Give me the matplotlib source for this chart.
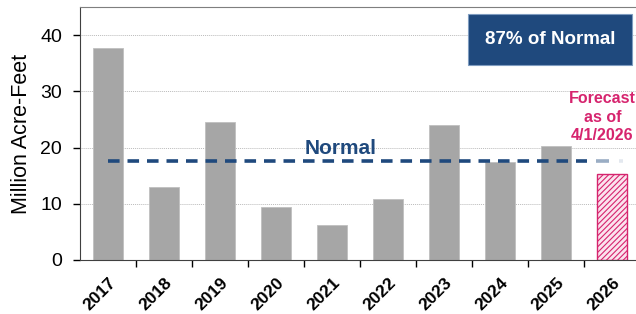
import numpy as np
import matplotlib.pyplot as plt

years = ["2017", "2018", "2019", "2020", "2021", "2022", "2023", "2024", "2025", "2026"]
volumes = [37.7, 12.9, 24.6, 9.5, 6.3, 10.8, 24.0, 17.4, 20.3, 15.3]
normal = 17.6
pct_text = "87% of Normal"

gray = "#A6A6A6"
navy = "#1F497D"
pink = "#D6246E"

plt.rcParams["font.family"] = ["Liberation Sans", "DejaVu Sans"]
plt.rcParams["hatch.linewidth"] = 0.8

fig = plt.figure(figsize=(6.36, 3.14), dpi=100)
ax = fig.add_axes([80 / 636, 54 / 314, 560 / 636, 253 / 314])

x = np.arange(len(years))
ax.bar(x[:-1], volumes[:-1], width=0.53, color=gray, edgecolor="#BFBFBF", linewidth=0.6, zorder=2)
ax.bar(x[-1], volumes[-1], width=0.53, color="#FBE3EE", edgecolor=pink,
       hatch="//////", linewidth=1.0, zorder=2)

# Normal line, fading out toward 2026
ax.plot([0, 8.55], [normal, normal], color=navy, lw=2.6, ls=(0, (3.2, 2.2)), zorder=3)
ax.plot([8.72, 8.95], [normal, normal], color=navy, lw=2.6, alpha=0.45, solid_capstyle="butt", zorder=3)
ax.plot([9.12, 9.2], [normal, normal], color=navy, lw=2.6, alpha=0.12, solid_capstyle="butt", zorder=3)
ax.text(4.15, normal + 0.5, "Normal", color=navy, fontsize=15, fontweight="bold",
        ha="center", va="bottom", zorder=4)

ax.text(8.83, 25.4, "Forecast\nas of\n4/1/2026", color=pink, fontsize=11.5, fontweight="bold",
        ha="center", va="center", linespacing=1.3, zorder=4)

ax.text(0.839, 0.873, pct_text, transform=ax.transAxes, color="white", fontsize=13.5,
        fontweight="bold", ha="center", va="center", zorder=5,
        bbox=dict(boxstyle="square,pad=0.9", facecolor=navy, edgecolor="#7F9CC0", linewidth=0.8))

ax.set_xlim(-0.5, 9.5)
ax.set_ylim(0, 45)
ax.set_yticks([0, 10, 20, 30, 40])
ax.set_xticks(x)
ax.set_xticklabels(years, rotation=45, fontsize=12.5, fontweight="bold",
                   ha="right", rotation_mode="anchor")
ax.tick_params(axis="y", labelsize=14, length=5, width=1, pad=8)
ax.tick_params(axis="x", length=0, pad=11)
ax.set_xticks(x[:-1] + 0.5, minor=True)
ax.tick_params(axis="x", which="minor", length=5, width=1, direction="out")
ax.set_ylabel("Million Acre-Feet", fontsize=15.5, labelpad=6)
ax.yaxis.grid(True, color="#BBBBBB", ls=(0, (1, 1)), lw=0.7, zorder=0)
ax.set_axisbelow(True)
for s in ["top", "right"]:
    ax.spines[s].set_color("#7F7F7F")
ax.spines["left"].set_color("#404040")
ax.spines["bottom"].set_color("#404040")

fig.savefig("out.png", dpi=100)
